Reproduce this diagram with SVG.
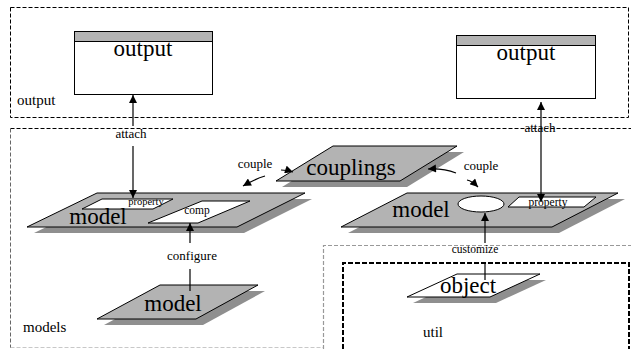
<svg xmlns="http://www.w3.org/2000/svg" width="631" height="349" viewBox="0 0 631 349">
<style>
text{font-family:"Liberation Serif","Times New Roman",serif;fill:#000}
.big{font-size:23px;text-anchor:middle}
.lbl{font-size:13px;text-anchor:middle}
.sm{font-size:11.5px;text-anchor:middle}
.reg{font-size:15px}
.plat{fill:#b3b3b3;stroke:#000;stroke-width:1}
.white{fill:#fff;stroke:#000;stroke-width:1}
.shadow{fill:#8f8f8f;stroke:none}
.conn{fill:none;stroke:#000;stroke-width:1.2}
</style>
<defs>
<marker id="arr" viewBox="0 0 10 10" refX="10" refY="5" markerWidth="9" markerHeight="8" markerUnits="userSpaceOnUse" orient="auto-start-reverse">
<path d="M0,0 L10,5 L0,10 z" fill="#000"/>
</marker>
</defs>
<rect width="631" height="349" fill="#fff"/>
<g id="regions">
<rect x="10.5" y="7.5" width="618" height="110" fill="none" stroke="#000" stroke-width="1" stroke-dasharray="4 2"/>
<line x1="10.5" y1="128.5" x2="631" y2="128.5" stroke="#000" stroke-width="1" stroke-dasharray="4 2"/>
<line x1="10.5" y1="128.5" x2="10.5" y2="348" stroke="#666" stroke-width="1" stroke-dasharray="4 2"/>
<line x1="10.5" y1="347.5" x2="323" y2="347.5" stroke="#c8c8c8" stroke-width="1" stroke-dasharray="4 2"/>
<path d="M323.5,349 L323.5,245.5 L631,245.5" fill="none" stroke="#999" stroke-width="1.2" stroke-dasharray="4 2"/>
<path d="M343,349 L343,263 L629,263 L629,349" fill="none" stroke="#000" stroke-width="2" stroke-dasharray="5 2"/>
<text class="reg" x="17" y="105">output</text>
<text class="reg" x="23" y="332">models</text>
<text class="reg" x="423" y="337">util</text>
</g>
<g id="output-left">
<rect x="74.5" y="31.5" width="138" height="63" fill="#fff" stroke="#000"/>
<rect x="74.5" y="31.5" width="138" height="10" fill="#b3b3b3" stroke="#000"/>
<text class="big" x="143" y="56">output</text>
</g>
<g id="output-right">
<rect x="456.5" y="35.5" width="139" height="63" fill="#fff" stroke="#000"/>
<rect x="456.5" y="35.5" width="139" height="10" fill="#b3b3b3" stroke="#000"/>
<text class="big" x="526" y="60">output</text>
</g>
<g id="model-left">
<polygon class="shadow" points="104,199 312,199 244,233 34,233"/>
<polygon class="plat" points="97,193 305,193 237,227 27,227"/>
<polygon class="white" points="102,199 173,199 153,209 82,209"/>
<text class="sm" x="146" y="205" style="font-size:10.5px">property</text>
<polygon class="white" points="202,201 250,201 198,223 148,223"/>
<text class="sm" x="197" y="214">comp</text>
<text class="big" x="98" y="224">model</text>
</g>
<g id="couplings">
<polygon class="shadow" points="339,152 464,152 407,187 282,187"/>
<polygon class="plat" points="333,146 457,146 400,181 276,181"/>
<text class="big" x="351" y="175">couplings</text>
</g>
<g id="model-right">
<polygon class="shadow" points="414,199 625,199 559,233 348,233"/>
<polygon class="plat" points="407,193 618,193 552,227 341,227"/>
<ellipse cx="481" cy="204" rx="23" ry="8" fill="#fff" stroke="#000"/>
<polygon class="white" points="519,197 596,197 584,207 508,207"/>
<text class="sm" x="548" y="206">property</text>
<text class="big" x="421" y="217">model</text>
</g>
<g id="model-bottom">
<polygon class="shadow" points="167,291 265,291 203,325 104,325"/>
<polygon class="plat" points="160,285 258,285 196,319 97,319"/>
<text class="big" x="173" y="311">model</text>
</g>
<g id="object">
<polygon class="shadow" points="463,280 546,280 496,303 413,303"/>
<polygon class="white" points="457,274 540,274 490,297 407,297"/>
<text class="big" x="468" y="293">object</text>
</g>
<g id="connectors">
<line class="conn" x1="133" y1="126" x2="133" y2="95" marker-end="url(#arr)"/>
<line class="conn" x1="133" y1="146" x2="133" y2="198" marker-end="url(#arr)"/>
<text class="lbl" x="131" y="138">attach</text>
<line class="conn" x1="541" y1="102" x2="541" y2="202" marker-start="url(#arr)" marker-end="url(#arr)"/>
<text class="lbl" x="540" y="132">attach</text>
<line class="conn" x1="190" y1="291" x2="190" y2="269"/>
<line class="conn" x1="190" y1="243" x2="190" y2="223" marker-end="url(#arr)"/>
<text class="lbl" x="192" y="260">configure</text>
<line class="conn" x1="485" y1="280" x2="485" y2="262"/>
<line class="conn" x1="485" y1="243" x2="485" y2="213" marker-end="url(#arr)"/>
<text class="sm" x="475" y="253">customize</text>
<text class="lbl" x="255" y="168">couple</text>
<path class="conn" d="M281,170 Q287,170 293,172" marker-end="url(#arr)"/>
<path class="conn" d="M265,176 Q255,179 243,186" marker-end="url(#arr)"/>
<text class="lbl" x="481" y="170">couple</text>
<path class="conn" d="M456,173 Q443,168 428,169" marker-end="url(#arr)"/>
<path class="conn" d="M467,180 Q472,181 478,187" marker-end="url(#arr)"/>
</g>
</svg>
